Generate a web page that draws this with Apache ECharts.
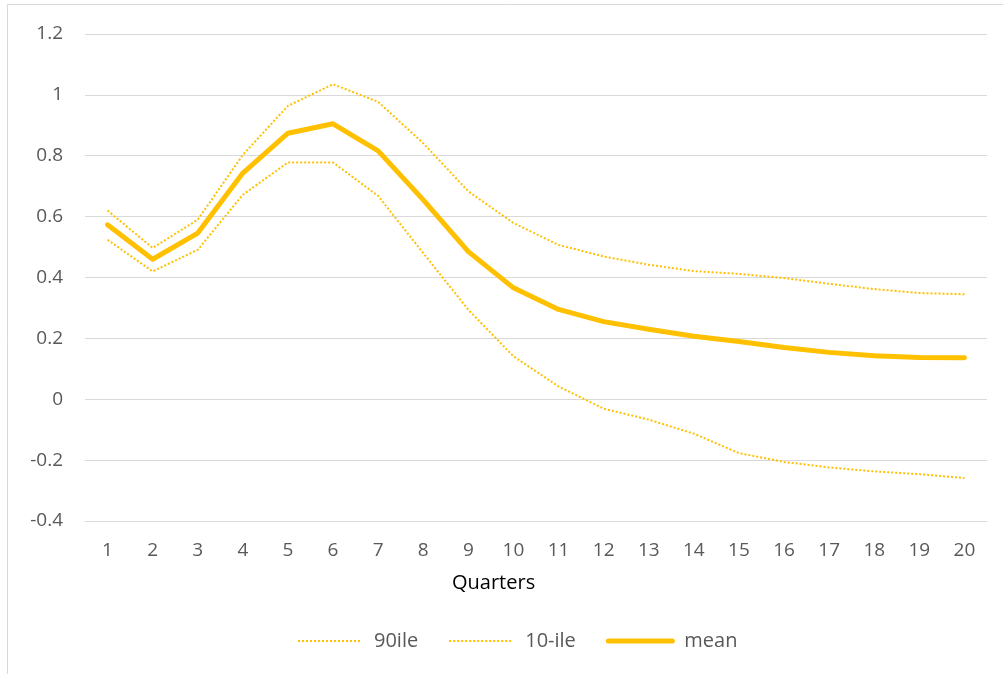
<!DOCTYPE html>
<html>
<head>
<meta charset="utf-8">
<script src="https://cdn.jsdelivr.net/npm/echarts@6/dist/echarts.min.js"></script>
<style>
  html, body { margin: 0; padding: 0; background: #fff; }
  #chart { width: 1003px; height: 674px; }
</style>
</head>
<body>
<div id="chart"></div>
<script>
const quarters = ['1', '2', '3', '4', '5', '6', '7', '8', '9', '10', '11', '12', '13', '14', '15', '16', '17', '18', '19', '20']
const p90 = [0.62, 0.497, 0.59, 0.803, 0.964, 1.035, 0.977, 0.841, 0.683, 0.579, 0.507, 0.469, 0.442, 0.421, 0.412, 0.398, 0.379, 0.362, 0.349, 0.345]
const p10 = [0.524, 0.42, 0.491, 0.672, 0.778, 0.778, 0.668, 0.48, 0.294, 0.141, 0.042, -0.031, -0.067, -0.113, -0.177, -0.206, -0.224, -0.237, -0.246, -0.259]
const mean = [0.573, 0.46, 0.546, 0.743, 0.874, 0.905, 0.816, 0.655, 0.485, 0.366, 0.295, 0.255, 0.23, 0.207, 0.19, 0.17, 0.154, 0.143, 0.137, 0.136]

const gold = '#FFC000'
const textColor = '#595959'
const font = 'Open Sans'

const chart = echarts.init(document.getElementById('chart'))

const option = {
  animation: false,
  textStyle: { fontFamily: font },
  grid: {
    left: 85,
    right: 16,
    top: 34,
    bottom: 153
  },
  graphic: [
    {
      type: 'rect',
      shape: { x: 7.5, y: 4.5, width: 1010, height: 700 },
      style: { fill: 'none', stroke: '#d9d9d9', lineWidth: 1 },
      silent: true
    },
    {
      type: 'text',
      left: 452,
      top: 573,
      style: { text: 'Quarters', fill: '#000', font: '20px "Open Sans"' }
    }
  ],
  legend: {
    top: 626,
    left: 292,
    itemWidth: 64,
    itemHeight: 14,
    itemGap: 30,
    itemStyle: { opacity: 0 },
    textStyle: { color: textColor, fontSize: 20, fontFamily: font, padding: [0, 0, 0, 7] },
    data: [
      { name: '90ile' },
      { name: '10-ile' },
      { name: 'mean', lineStyle: { width: 5, cap: 'round' } }
    ]
  },
  xAxis: {
    type: 'category',
    data: quarters,
    boundaryGap: true,
    axisLine: { show: false },
    axisTick: { show: false },
    axisLabel: { color: textColor, fontSize: 19, margin: 20 }
  },
  yAxis: {
    type: 'value',
    min: -0.4,
    max: 1.2,
    interval: 0.2,
    axisLine: { show: false },
    axisTick: { show: false },
    axisLabel: {
      color: textColor,
      fontSize: 19,
      margin: 22,
      formatter: v => String(Math.round(v * 10) / 10)
    },
    splitLine: { lineStyle: { color: '#d9d9d9', width: 1 } }
  },
  series: [
    {
      name: '90ile',
      type: 'line',
      data: p90,
      symbol: 'none',
      lineStyle: { color: gold, width: 2, type: [2, 2] },
      itemStyle: { color: gold }
    },
    {
      name: '10-ile',
      type: 'line',
      data: p10,
      symbol: 'none',
      lineStyle: { color: gold, width: 2, type: [2, 2] },
      itemStyle: { color: gold }
    },
    {
      name: 'mean',
      type: 'line',
      data: mean,
      symbol: 'none',
      lineStyle: { color: gold, width: 5, cap: 'round', join: 'round' },
      itemStyle: { color: gold }
    }
  ]
}

chart.setOption(option)
</script>
</body>
</html>
